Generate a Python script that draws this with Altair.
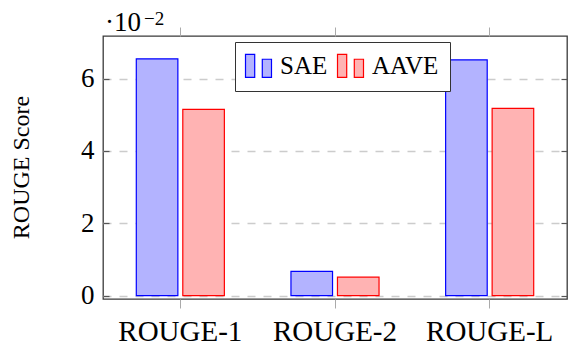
import altair as alt
import pandas as pd

metrics = ["ROUGE-1", "ROUGE-2", "ROUGE-L"]
dialects = ["SAE", "AAVE"]
sae_values = [6.55, 0.67, 6.52]
aave_values = [5.15, 0.51, 5.18]
y_ticks = [0, 2, 4, 6]
fill_colors = ["#b3b3ff", "#ffb3b3"]
stroke_colors = ["#0000ff", "#ff0000"]
exponent_base = ["·10"]
exponent_power = ["−2"]

rows = []
for m, s, a in zip(metrics, sae_values, aave_values):
    rows.append({"metric": m, "dialect": "SAE", "value": s})
    rows.append({"metric": m, "dialect": "AAVE", "value": a})
df = pd.DataFrame(rows)

FONT = "Liberation Serif"
W, H = 464, 263

xscale = alt.Scale(domain=metrics, paddingInner=0, paddingOuter=0)
yscale = alt.Scale(domain=[-0.093, 7.18], nice=False, zero=False)

legend_path = "M-1.13,-1H-0.33V1H-1.13Z M0.33,-0.57H1.13V1H0.33Z"
leg = alt.Legend(
    title=None, orient="none", legendX=132, legendY=6, direction="horizontal",
    strokeColor="#333333", fillColor="white", padding=11, cornerRadius=0,
    symbolType=legend_path, symbolSize=529, symbolStrokeWidth=1.2,
    labelFont=FONT, labelFontSize=25, labelColor="black", labelOffset=9,
    columnPadding=7, symbolOpacity=1,
)

bars = alt.Chart(df).mark_bar(strokeWidth=1.2, opacity=1).encode(
    x=alt.X("metric:N", sort=metrics, scale=xscale, title=None,
            axis=alt.Axis(orient="bottom", domain=False, grid=False, tickSize=9,
                          tickColor="#aaaaaa", tickWidth=1, labelAngle=0,
                          labelFont=FONT, labelFontSize=29, labelColor="black",
                          labelBaseline="alphabetic", labelPadding=32)),
    xOffset=alt.XOffset("dialect:N", sort=dialects,
                        scale=alt.Scale(domain=dialects, paddingInner=0.106, paddingOuter=0.716)),
    y=alt.Y("value:Q", scale=yscale, title="ROUGE Score",
            axis=alt.Axis(orient="left", values=y_ticks, offset=-6, domain=False,
                          tickSize=6, tickColor="#555555", tickWidth=1.2,
                          grid=True, gridColor="#cccccc", gridDash=[8, 8], gridWidth=1.3,
                          labelFont=FONT, labelFontSize=27, labelColor="black",
                          labelPadding=9,
                          titleFont=FONT, titleFontSize=24, titleFontWeight="normal",
                          titleColor="black", titleAngle=-90, titleX=-88, titleY=131,
                          titleAlign="center", titleBaseline="middle")),
    fill=alt.Fill("dialect:N", sort=dialects,
                  scale=alt.Scale(domain=dialects, range=fill_colors), legend=leg),
    stroke=alt.Stroke("dialect:N", sort=dialects,
                      scale=alt.Scale(domain=dialects, range=stroke_colors), legend=leg),
)

mirror = alt.Chart(df).mark_point(opacity=0).encode(
    x=alt.X("metric:N", sort=metrics, scale=xscale, title=None,
            axis=alt.Axis(orient="top", domain=False, grid=False, labels=False,
                          tickSize=9, tickColor="#aaaaaa", tickWidth=1)),
    y=alt.Y("value:Q", scale=yscale, title=None,
            axis=alt.Axis(orient="right", values=y_ticks, offset=-6, domain=False,
                          grid=False, labels=False, tickSize=6,
                          tickColor="#555555", tickWidth=1.2)),
)

base_df = pd.DataFrame({"t": exponent_base})
pow_df = pd.DataFrame({"t": exponent_power})
txt_base = alt.Chart(base_df).mark_text(
    font=FONT, fontSize=27, align="left", baseline="alphabetic", color="black"
).encode(x=alt.value(2), y=alt.value(-5), text="t:N")
txt_pow = alt.Chart(pow_df).mark_text(
    font=FONT, fontSize=19, align="left", baseline="alphabetic", color="black"
).encode(x=alt.value(41), y=alt.value(-11), text="t:N")

chart = alt.layer(bars, mirror, txt_base, txt_pow).resolve_axis(
    x="independent", y="independent"
).properties(
    width=W, height=H,
    autosize=alt.AutoSizeParams(type="none"),
    padding={"left": 95, "top": 28, "right": 1, "bottom": 47},
).configure_view(stroke="#3a3a3a", strokeWidth=1.3)

chart.save("out.html", embed_options={"renderer": "svg", "actions": False})
